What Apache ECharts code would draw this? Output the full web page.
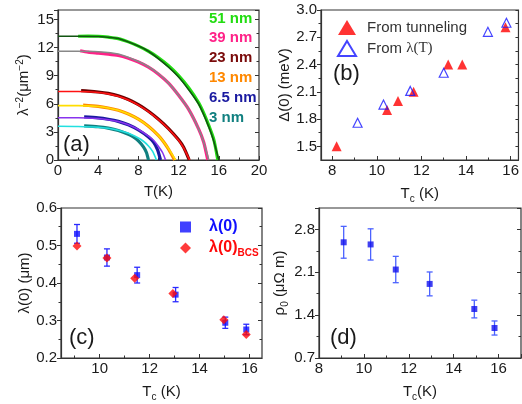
<!DOCTYPE html>
<html>
<head>
<meta charset="utf-8">
<script src="https://cdn.jsdelivr.net/npm/echarts@6/dist/echarts.min.js"></script>
<style>
  html, body { margin: 0; padding: 0; background: #fff; }
  #chart { width: 522px; height: 404px; }
</style>
</head>
<body>
<div id="chart"></div>
<script>
// ---- panel (a): lambda^-2 vs T, data (thick) and fits (thin)
var fitT51 = [0, 2, 4, 6, 8, 9, 10, 11, 12, 13, 14, 15, 15.5, 16];
var fitV51 = [13.2, 13.2, 13.17, 12.95, 12.15, 11.6, 10.8, 9.9, 8.85, 7.5, 5.95, 3.55, 2.0, 0];
var datT51 = [2, 3, 4, 5, 6, 7, 8, 9, 10, 11, 12, 13, 14, 14.5, 15, 15.5, 15.9];
var datV51 = [13.2, 13.22, 13.2, 13.1, 12.95, 12.6, 12.15, 11.6, 10.9, 10.05, 9.0, 7.7, 6.1, 5.0, 3.7, 2.2, 0];

var fitT39 = [0, 2, 4, 6, 8, 9, 10, 11, 12, 13, 14, 14.5, 15];
var fitV39 = [11.6, 11.6, 11.55, 11.3, 10.5, 9.95, 9.2, 8.2, 6.9, 5.4, 3.3, 1.9, 0];
var datT39 = [2.2, 3, 4, 5, 6, 7, 8, 9, 10, 11, 12, 13, 14, 14.5, 14.9];
var datV39 = [11.65, 11.5, 11.4, 11.3, 11.15, 10.85, 10.45, 9.9, 9.15, 8.2, 6.9, 5.4, 3.3, 1.9, 0];

var fitT23 = [0, 2, 4, 5, 6, 7, 8, 9, 10, 11, 12, 12.5, 13.1];
var fitV23 = [7.3, 7.3, 7.2, 7.05, 6.8, 6.4, 5.85, 5.15, 4.3, 3.3, 2.1, 1.3, 0];
var datT23 = [2.3, 3, 4, 5, 6, 7, 8, 9, 10, 11, 12, 12.5, 13.05];
var datV23 = [7.4, 7.35, 7.25, 7.1, 6.85, 6.45, 5.9, 5.2, 4.35, 3.35, 2.15, 1.35, 0];

var fitT13 = [0, 2, 4, 5, 6, 7, 8, 9, 10, 10.5, 11, 11.7];
var fitV13 = [5.8, 5.8, 5.7, 5.55, 5.3, 4.9, 4.35, 3.6, 2.6, 1.95, 1.2, 0];
var datT13 = [2.5, 4, 5, 6, 7, 8, 9, 10, 10.5, 11, 11.6];
var datV13 = [5.85, 5.72, 5.55, 5.3, 4.9, 4.35, 3.6, 2.6, 1.95, 1.15, 0];

var fitT65 = [0, 2, 4, 5, 6, 7, 8, 9, 9.5, 10, 10.4, 10.7];
var fitV65 = [4.5, 4.5, 4.42, 4.3, 4.1, 3.75, 3.25, 2.55, 2.1, 1.45, 0.8, 0];
var datT65 = [2.6, 4, 5, 6, 7, 8, 9, 9.5, 9.9, 10.2];
var datV65 = [4.6, 4.5, 4.35, 4.12, 3.75, 3.2, 2.45, 1.9, 1.1, 0];

var fitT3 = [0, 2, 4, 5, 6, 7, 8, 8.5, 9, 9.4, 9.8];
var fitV3 = [3.6, 3.58, 3.5, 3.38, 3.18, 2.85, 2.35, 2.0, 1.5, 0.95, 0];
var datT3 = [2.6, 4, 5, 6, 7, 7.5, 8, 8.5, 8.8, 9.0];
var datV3 = [3.65, 3.55, 3.4, 3.15, 2.75, 2.45, 2.05, 1.4, 0.8, 0];

var filmNames = ['51 nm', '39 nm', '23 nm', '13 nm', '6.5 nm', '3 nm'];
var dataColors = ['#22dd11', '#ff2288', '#6a0000', '#ff8800', '#1a1aa0', '#118080'];
var fitColors = ['#115511', '#888888', '#ff1111', '#ffdd00', '#8833ee', '#22e0e0'];
var labelColors = ['#22dd11', '#ff2288', '#7a0a0a', '#ff8800', '#1a1aa0', '#118080'];

// ---- panel (b): gap vs Tc
var tunnelTc = [8.2, 10.46, 10.95, 11.65, 13.2, 13.83, 15.77];
var tunnelGap = [1.5, 1.9, 2.0, 2.1, 2.4, 2.4, 2.81];
var lambdaTc = [9.14, 10.3, 11.5, 13.0, 14.98, 15.81];
var lambdaGap = [1.76, 1.96, 2.11, 2.31, 2.76, 2.86];
var gapTicks = [1.5, 1.8, 2.1, 2.4, 2.7, 3.0];
var gapMinor = [1.65, 1.95, 2.25, 2.55, 2.85];

// ---- panel (c): lambda(0) vs Tc
var lamTc = [9.09, 10.29, 11.5, 13.04, 15.03, 15.87];
var lam0 = [0.531, 0.468, 0.421, 0.369, 0.294, 0.276];
var lam0Err = [0.025, 0.023, 0.021, 0.019, 0.015, 0.014];
var bcsTc = [9.09, 10.29, 11.4, 12.93, 14.97, 15.87];
var lamBcs = [0.499, 0.467, 0.413, 0.372, 0.302, 0.263];

// ---- panel (d): rho0 vs Tc
var rhoTc = [9.1, 10.3, 11.42, 12.93, 14.92, 15.82];
var rho0 = [2.59, 2.555, 2.145, 1.91, 1.5, 1.19];
var rho0Err = [0.26, 0.255, 0.215, 0.195, 0.145, 0.115];

function pairs(xs, ys) {
  return xs.map(function (x, i) { return [x, ys[i]]; });
}
function errRows(xs, ys, es) {
  return xs.map(function (x, i) { return [x, ys[i] - es[i], ys[i] + es[i]]; });
}

var FONT = 'Liberation Sans, Arial, sans-serif';
var AX = '#333';
var labelStyle = { color: '#1a1a1a', fontSize: 15, fontFamily: FONT };
var nameRich = {
  n: { fontSize: 15, fontFamily: FONT, color: '#1a1a1a' },
  sub: { fontSize: 10, fontFamily: FONT, color: '#1a1a1a', padding: [10, 0, 0, 0] },
  sup: { fontSize: 10, fontFamily: FONT, color: '#1a1a1a', padding: [0, 0, 8, 0] }
};

function xAx(idx, min, max, opts) {
  var a = {
    type: 'value', gridIndex: idx, min: min, max: max, position: 'bottom',
    axisLine: { lineStyle: { color: AX, width: 1.2 } },
    axisTick: { inside: true, length: 4, lineStyle: { color: AX } },
    minorTick: { show: true, splitNumber: 2, length: 2.5, lineStyle: { color: AX } },
    axisLabel: Object.assign({ margin: 3 }, labelStyle),
    splitLine: { show: false },
    nameLocation: 'middle', nameGap: 24, nameTextStyle: { rich: nameRich }
  };
  return Object.assign(a, opts);
}
function yAx(idx, min, max, opts) {
  var a = {
    type: 'value', gridIndex: idx, min: min, max: max, position: 'left',
    axisLine: { lineStyle: { color: AX, width: 1.2 } },
    axisTick: { inside: false, length: 4, lineStyle: { color: AX } },
    minorTick: { show: true, splitNumber: 2, length: 2.5, lineStyle: { color: AX } },
    axisLabel: Object.assign({ margin: 4 }, labelStyle),
    splitLine: { show: false },
    nameLocation: 'middle', nameGap: 28, nameRotate: 90, nameTextStyle: { rich: nameRich }
  };
  return Object.assign(a, opts);
}
// overlay axis used only to draw minor ticks where min is not a multiple of interval
function minorOnlyX(idx, min, max, vals) {
  return {
    type: 'value', gridIndex: idx, min: min, max: max, position: 'bottom',
    axisLine: { show: false }, axisLabel: { show: false }, splitLine: { show: false },
    axisTick: { inside: true, length: 2.5, customValues: vals, lineStyle: { color: AX } }
  };
}
function minorOnlyY(idx, min, max, vals) {
  return {
    type: 'value', gridIndex: idx, min: min, max: max, position: 'left',
    axisLine: { show: false }, axisLabel: { show: false }, splitLine: { show: false },
    axisTick: { length: 2.5, customValues: vals, lineStyle: { color: AX } }
  };
}
// right-hand frame ticks (mirror of the left axis, pointing inward)
function rightY(idx, min, max, opts) {
  var a = {
    type: 'value', gridIndex: idx, min: min, max: max, position: 'right',
    axisLine: { show: false }, axisLabel: { show: false }, splitLine: { show: false },
    axisTick: { inside: true, length: 4, lineStyle: { color: AX } },
    minorTick: { show: true, splitNumber: 2, length: 2.5, lineStyle: { color: AX } }
  };
  return Object.assign(a, opts);
}

function errorSeries(name, xi, yi, rows, color) {
  return {
    name: name, type: 'custom', xAxisIndex: xi, yAxisIndex: yi, z: 3,
    data: rows,
    renderItem: function (params, api) {
      var x = api.value(0);
      var lo = api.coord([x, api.value(1)]);
      var hi = api.coord([x, api.value(2)]);
      var w = 3;
      var st = { stroke: color, lineWidth: 1.3 };
      return {
        type: 'group',
        children: [
          { type: 'line', shape: { x1: lo[0], y1: lo[1], x2: hi[0], y2: hi[1] }, style: st },
          { type: 'line', shape: { x1: lo[0] - w, y1: lo[1], x2: lo[0] + w, y2: lo[1] }, style: st },
          { type: 'line', shape: { x1: hi[0] - w, y1: hi[1], x2: hi[0] + w, y2: hi[1] }, style: st }
        ]
      };
    }
  };
}

// axis indices: x: 0 a, 1 b, 2 b-minor, 3 c, 4 c-minor, 5 d
//               y: 0 a, 1 b, 2 b-minor, 3 c, 4 d, 5-8 right frames
var series = [];
var filmData = [
  [datT51, datV51, fitT51, fitV51],
  [datT39, datV39, fitT39, fitV39],
  [datT23, datV23, fitT23, fitV23],
  [datT13, datV13, fitT13, fitV13],
  [datT65, datV65, fitT65, fitV65],
  [datT3, datV3, fitT3, fitV3]
];
filmData.forEach(function (f, i) {
  series.push({
    name: filmNames[i] + ' data', type: 'line', xAxisIndex: 0, yAxisIndex: 0,
    data: pairs(f[0], f[1]), showSymbol: false, smooth: 0.25,
    lineStyle: { color: dataColors[i], width: 3.2 }, z: 2
  });
  series.push({
    name: filmNames[i] + ' fit', type: 'line', xAxisIndex: 0, yAxisIndex: 0,
    data: pairs(f[2], f[3]), showSymbol: false, smooth: 0.25,
    lineStyle: { color: fitColors[i], width: 1.6 }, z: 3
  });
});

series.push({
  name: 'From tunneling', type: 'scatter', xAxisIndex: 1, yAxisIndex: 1,
  data: pairs(tunnelTc, tunnelGap), symbol: 'triangle', symbolSize: 10,
  itemStyle: { color: '#ff0000' }
});
series.push({
  name: 'From λ(T)', type: 'scatter', xAxisIndex: 1, yAxisIndex: 1,
  data: pairs(lambdaTc, lambdaGap), symbol: 'triangle', symbolSize: 9,
  itemStyle: { color: 'rgba(255,255,255,0)', borderColor: '#1515ff', borderWidth: 1.2 }
});

series.push(errorSeries('lamErr', 3, 3, errRows(lamTc, lam0, lam0Err), '#2a2aff'));
series.push({
  name: 'λ(0)', type: 'scatter', xAxisIndex: 3, yAxisIndex: 3,
  data: pairs(lamTc, lam0), symbol: 'rect', symbolSize: 6,
  itemStyle: { color: '#1010ff' }, z: 4
});
series.push({
  name: 'λ(0)BCS', type: 'scatter', xAxisIndex: 3, yAxisIndex: 3,
  data: pairs(bcsTc, lamBcs), symbol: 'diamond', symbolSize: 9,
  itemStyle: { color: '#ff0a0a' }, z: 4
});

series.push(errorSeries('rhoErr', 5, 4, errRows(rhoTc, rho0, rho0Err), '#4b62ff'));
series.push({
  name: 'rho', type: 'scatter', xAxisIndex: 5, yAxisIndex: 4,
  data: pairs(rhoTc, rho0), symbol: 'rect', symbolSize: 6,
  itemStyle: { color: '#1010ee' }, z: 4
});

var gridBase = { show: true, borderColor: AX, borderWidth: 1.2, backgroundColor: 'transparent' };

var option = {
  backgroundColor: '#fff',
  animation: false,
  grid: [
    Object.assign({ left: 58, top: 10, width: 201, height: 150 }, gridBase),
    Object.assign({ left: 321, top: 10, width: 199, height: 150 }, gridBase),
    Object.assign({ left: 61, top: 208, width: 201, height: 150 }, gridBase),
    Object.assign({ left: 319, top: 208, width: 202, height: 150 }, gridBase)
  ],
  xAxis: [
    xAx(0, 0, 20, { interval: 4, name: '{n|T(K)}' }),
    xAx(1, 7.5, 16.35, {
      minorTick: { show: false },
      axisTick: { inside: true, length: 4, customValues: [8, 10, 12, 14, 16], lineStyle: { color: AX } },
      axisLabel: Object.assign({ margin: 3, customValues: [8, 10, 12, 14, 16] }, labelStyle),
      name: '{n|T}{sub|c}{n| (K)}'
    }),
    minorOnlyX(1, 7.5, 16.35, [9, 11, 13, 15]),
    xAx(2, 8.45, 16.5, {
      minorTick: { show: false },
      axisTick: { inside: true, length: 4, customValues: [10, 12, 14, 16], lineStyle: { color: AX } },
      axisLabel: Object.assign({ margin: 3, customValues: [10, 12, 14, 16] }, labelStyle),
      name: '{n|T}{sub|c}{n| (K)}'
    }),
    minorOnlyX(2, 8.45, 16.5, [9, 11, 13, 15]),
    xAx(3, 8, 17, { interval: 2, name: '{n|T}{sub|c}{n|(K)}',
      axisLabel: Object.assign({ margin: 3, showMaxLabel: false }, labelStyle) })
  ],
  yAxis: [
    yAx(0, 0, 16, { interval: 3, name: '{n|λ}{sup|−2}{n|(μm}{sup|−2}{n|)}', nameGap: 25 }),
    yAx(1, 1.35, 3.0, {
      minorTick: { show: false },
      axisTick: { length: 4, customValues: gapTicks, lineStyle: { color: AX } },
      axisLabel: Object.assign({ margin: 4, customValues: gapTicks,
        formatter: function (v) { return v.toFixed(1); } }, labelStyle),
      name: '{n|Δ(0) (meV)}', nameGap: 27
    }),
    minorOnlyY(1, 1.35, 3.0, gapMinor),
    yAx(2, 0.2, 0.6, { interval: 0.1, name: '{n|λ(0) (μm)}', nameGap: 29,
      axisLabel: Object.assign({ margin: 4, formatter: function (v) { return v.toFixed(1); } }, labelStyle) }),
    yAx(3, 0.7, 3.15, { interval: 0.7, name: '{n|ρ}{sub|0}{n| (μΩ m)}', nameGap: 27,
      axisLabel: Object.assign({ margin: 4, showMaxLabel: false,
        formatter: function (v) { return v.toFixed(1); } }, labelStyle) }),
    rightY(0, 0, 16, { interval: 3 }),
    rightY(1, 1.35, 3.0, { minorTick: { show: false },
      axisTick: { inside: true, length: 3, customValues: gapTicks.concat(gapMinor), lineStyle: { color: AX } } }),
    rightY(2, 0.2, 0.6, { interval: 0.1 }),
    rightY(3, 0.7, 3.15, { interval: 0.7 })
  ],
  legend: [
    {
      data: ['From tunneling', 'From λ(T)'], orient: 'vertical', left: 332, top: 15,
      itemWidth: 18, itemHeight: 15, itemGap: 5,
      textStyle: { fontSize: 15, fontFamily: FONT, color: '#333', padding: [0, 0, 0, 6],
        rich: { s: { fontFamily: 'Liberation Serif, Times New Roman, serif', fontSize: 15, color: '#333' } } },
      formatter: function (n) { return n === 'From λ(T)' ? 'From {s|λ(T)}' : n; }
    },
    {
      data: ['λ(0)', 'λ(0)BCS'], orient: 'vertical', left: 175, top: 214,
      itemWidth: 11, itemHeight: 11, itemGap: 5,
      textStyle: { fontSize: 16, fontWeight: 'bold', fontFamily: FONT, padding: [0, 0, 0, 13],
        rich: {
          b: { fontSize: 16, fontWeight: 'bold', fontFamily: FONT, color: '#1010ff' },
          r: { fontSize: 16, fontWeight: 'bold', fontFamily: FONT, color: '#ff0a0a' },
          rs: { fontSize: 10, fontWeight: 'bold', fontFamily: FONT, color: '#ff0a0a', padding: [10, 0, 0, 0] }
        } },
      formatter: function (n) { return n === 'λ(0)' ? '{b|λ(0)}' : '{r|λ(0)}{rs|BCS}'; }
    }
  ],
  graphic: [
    { type: 'text', left: 63, top: 134, style: { text: '(a)', fontSize: 22, fontFamily: FONT, fill: '#1a1a1a' } },
    { type: 'text', left: 333, top: 63, style: { text: '(b)', fontSize: 22, fontFamily: FONT, fill: '#1a1a1a' } },
    { type: 'text', left: 69, top: 327, style: { text: '(c)', fontSize: 22, fontFamily: FONT, fill: '#1a1a1a' } },
    { type: 'text', left: 330, top: 327, style: { text: '(d)', fontSize: 22, fontFamily: FONT, fill: '#1a1a1a' } }
  ].concat(filmNames.map(function (n, i) {
    return { type: 'text', left: 209, top: 11 + i * 19.8,
      style: { text: n, fontSize: 15, fontWeight: 'bold', fontFamily: FONT, fill: labelColors[i] } };
  })),
  series: series
};

var chart = echarts.init(document.getElementById('chart'));
chart.setOption(option);
</script>
</body>
</html>
